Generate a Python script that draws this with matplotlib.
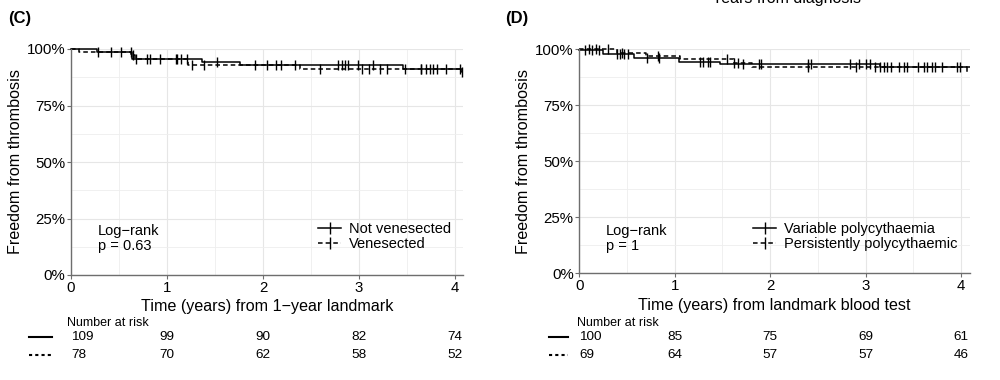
import numpy as np
import matplotlib
matplotlib.use('Agg')
import matplotlib.pyplot as plt
from matplotlib.lines import Line2D
from matplotlib.transforms import blended_transform_factory

plt.rcParams['font.family'] = ['Liberation Sans', 'DejaVu Sans']

# (C) landmark 1 year - venesection
c_nv_t = [0, 0.27, 0.64, 1.36, 1.76, 3.46, 4.07]
c_nv_s = [1.0, 0.986, 0.957, 0.942, 0.928, 0.911, 0.900]
c_nv_cens = [0.42, 0.52, 0.63, 0.79, 0.82, 0.93, 1.10, 1.21, 1.52, 1.92, 2.04, 2.14,
             2.19, 2.33, 2.78, 2.82, 2.85, 2.89, 2.99, 3.15, 3.48, 3.65, 3.74, 3.81,
             3.91, 4.05]
c_v_t = [0, 0.08, 0.62, 0.67, 1.22, 2.39, 4.07]
c_v_s = [1.0, 0.986, 0.972, 0.957, 0.928, 0.912, 0.900]
c_v_cens = [0.28, 0.65, 0.68, 1.09, 1.15, 1.26, 1.39, 2.59, 3.03, 3.10, 3.22, 3.29,
            3.65, 3.70, 3.77, 4.07]
c_risk_1 = [109, 99, 90, 82, 74]
c_risk_2 = [78, 70, 62, 58, 52]

# (D) landmark blood test - polycythaemia
d_var_t = [0, 0.25, 0.57, 1.04, 1.47, 3.15, 4.06]
d_var_s = [0.995, 0.978, 0.960, 0.945, 0.933, 0.922, 0.905]
d_var_cens = [0.06, 0.13, 0.21, 0.39, 0.43, 0.47, 0.51, 0.71, 0.84, 1.26, 1.30, 1.35,
              1.37, 1.72, 1.88, 1.90, 2.40, 2.43, 2.84, 2.93, 3.00, 3.05, 3.15, 3.19,
              3.22, 3.27, 3.40, 3.43, 3.61, 3.64, 3.73, 3.80, 3.96, 3.99]
d_per_t = [0, 0.39, 0.70, 1.06, 1.62, 1.81, 4.10]
d_per_s = [1.0, 0.982, 0.970, 0.957, 0.940, 0.922, 0.922]
d_per_cens = [0.10, 0.18, 0.30, 0.45, 0.82, 1.55, 1.62, 1.66, 2.40, 2.90, 3.10, 3.35,
              3.55, 3.70]
d_risk_1 = [100, 85, 75, 69, 61]
d_risk_2 = [69, 64, 57, 57, 46]

times = [0, 1, 2, 3, 4]

fig = plt.figure(figsize=(10, 3.8), dpi=100)
GREY = '#6e6e6e'
DASH = (0, (3, 2))


def step_val(t, s, x):
    idx = np.searchsorted(t, x, side='right') - 1
    return np.array(s)[idx]


def km_panel(rect, xmax, curves, labels, xlabel, pval, leg_xy, ylab_x, lr_x):
    ax = fig.add_axes(rect)
    for (t, s, cens), ls in zip(curves, ['-', DASH]):
        ax.step(t, s, where='post', color='black', lw=1.1, linestyle=ls, clip_on=False)
        ax.plot(cens, step_val(t, s, cens), linestyle='none', marker='|',
                color='black', ms=7, mew=1.0, clip_on=False)
    ax.set_xlim(0, xmax)
    ax.set_ylim(0, 1)
    ax.set_xticks(times)
    ax.set_xticks([0.5, 1.5, 2.5, 3.5], minor=True)
    ax.set_yticks([0, 0.25, 0.5, 0.75, 1.0])
    ax.set_yticklabels(['0%', '25%', '50%', '75%', '100%'])
    ax.set_yticks([0.125, 0.375, 0.625, 0.875], minor=True)
    ax.grid(which='major', color='#e6e6e6', lw=0.8)
    ax.grid(which='minor', color='#eeeeee', lw=0.6)
    ax.set_axisbelow(True)
    for sp in ['top', 'right']:
        ax.spines[sp].set_visible(False)
    for sp in ['left', 'bottom']:
        ax.spines[sp].set_color(GREY)
        ax.spines[sp].set_linewidth(1.0)
    ax.tick_params(which='major', length=3, color=GREY, labelsize=10.8, pad=1,
                   labelcolor='black')
    ax.tick_params(which='minor', length=0)
    ax.set_xlabel(xlabel, fontsize=11.6, labelpad=3.5)
    fig.text(ylab_x, 0.575, 'Freedom from thrombosis', rotation=90, fontsize=11.6,
             ha='center', va='center')

    handles = [Line2D([], [], color='black', lw=1.1, marker='|', ms=8),
               Line2D([], [], color='black', lw=1.1, ls=DASH, marker='|', ms=8)]
    fig.legend(handles, labels, loc='upper left', bbox_to_anchor=leg_xy, frameon=False,
               fontsize=10.5, handlelength=1.6, handletextpad=0.5, labelspacing=0.1,
               borderpad=0, borderaxespad=0)
    fig.text(lr_x, 1 - 238.7 / 380, 'Log\u2212rank\np = ' + pval, fontsize=10.5,
             ha='left', va='center', linespacing=1.1)
    return ax


# panel C
axc = km_panel([0.071, 1 - 275 / 380, 0.392, 226 / 380], 4.083,
               [(c_nv_t, c_nv_s, c_nv_cens), (c_v_t, c_v_s, c_v_cens)],
               ['Not venesected', 'Venesected'],
               'Time (years) from 1\u2212year landmark', '0.63',
               (0.318, 1 - 222 / 380), 0.016, 0.098)

# panel D
axd = km_panel([0.5793, 1 - 273.3 / 380, 0.3907, 224 / 380], 4.095,
               [(d_var_t, d_var_s, d_var_cens), (d_per_t, d_per_s, d_per_cens)],
               ['Variable polycythaemia', 'Persistently polycythaemic'],
               'Time (years) from landmark blood test', '1',
               (0.753, 1 - 222 / 380), 0.523, 0.606)

# risk tables
for ax, r1, r2, x0, xl in [(axc, c_risk_1, c_risk_2, 0.067, (0.029, 0.052)),
                           (axd, d_risk_1, d_risk_2, 0.577, (0.549, 0.568))]:
    tr = blended_transform_factory(ax.transData, fig.transFigure)
    fig.text(x0, 1 - 322.7 / 380, 'Number at risk', fontsize=9, ha='left', va='center')
    for row, y, ls in [(r1, 337, '-'), (r2, 355, (0, (1.5, 1.5)))]:
        yf = 1 - y / 380
        fig.add_artist(Line2D(list(xl), [yf, yf], color='black', lw=1.5, ls=ls,
                              transform=fig.transFigure))
        for i, (tt, n) in enumerate(zip(times, row)):
            ax.text(tt, yf, str(n), transform=tr, fontsize=9.7, va='center',
                    ha='left' if i == 0 else 'center')

fig.text(0.008, 1 - 18 / 380, '(C)', fontsize=12, weight='bold', va='center')
fig.text(0.505, 1 - 18 / 380, '(D)', fontsize=12, weight='bold', va='center')
# title of the panel above, cut off by the crop as in the source figure
fig.text(0.787, 1 - 3 / 380, 'Years from diagnosis', fontsize=11.5, ha='center',
         va='baseline')

fig.savefig('out.png', dpi=100)
